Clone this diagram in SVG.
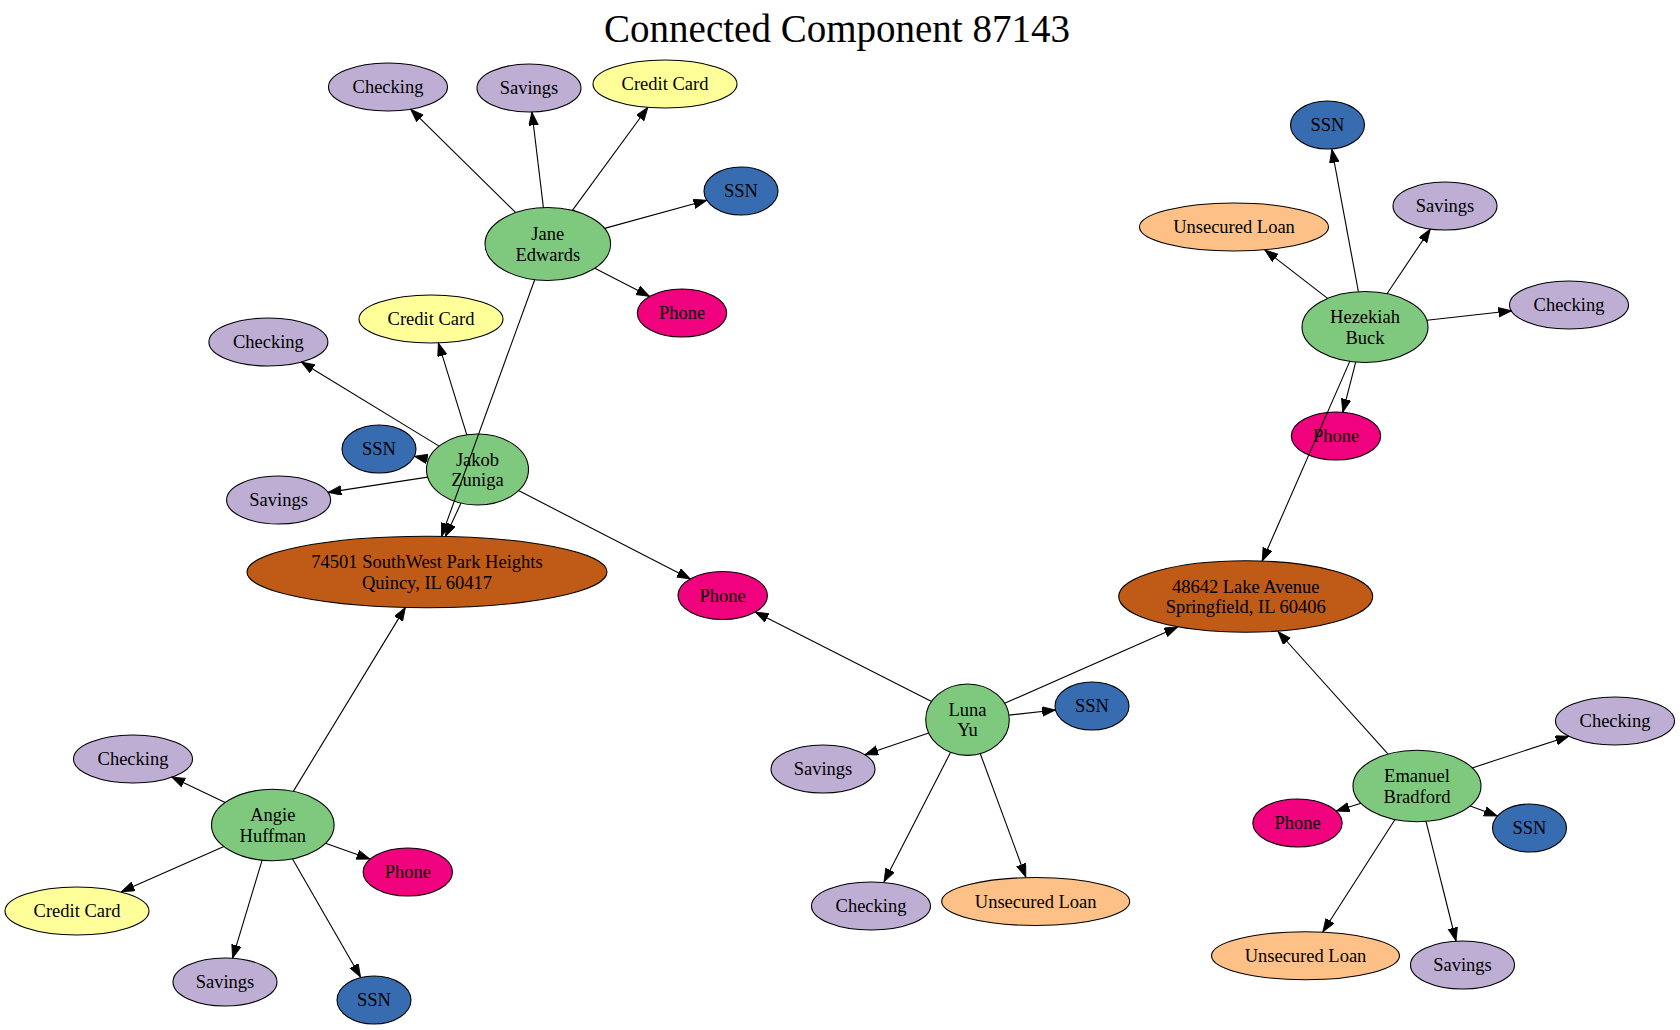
<svg xmlns="http://www.w3.org/2000/svg" width="1680" height="1030" viewBox="0 0 1680 1030">
<style>
text{font-family:"Liberation Serif","Times New Roman",serif;font-size:18.5px;text-anchor:middle;fill:#000}
.title{font-size:39px}
ellipse{stroke:#000;stroke-width:1.1}
.person{fill:#7fc97f}
.acct{fill:#beaed4}
.cc{fill:#ffff99}
.loan{fill:#fdc086}
.ssn{fill:#386cb0}
.phone{fill:#f0027f}
.addr{fill:#bf5b17}
#edges line{stroke:#000;stroke-width:1.1;marker-end:url(#arr)}
</style>
<defs>
<marker id="arr" markerUnits="userSpaceOnUse" markerWidth="15" markerHeight="11" refX="13.3" refY="4.8" orient="auto">
<path d="M0,0 L13.3,4.8 L0,9.6 z" fill="#000" stroke="#000" stroke-width="0.8"/>
</marker>
</defs>
<rect width="1680" height="1030" fill="#fff"/>
<text class="title" x="837" y="42">Connected Component 87143</text>

<g id="jane"><ellipse class="person" cx="547.8" cy="244" rx="62.8" ry="36.5"/><text x="547.8" y="240">Jane</text><text x="547.8" y="260.5">Edwards</text></g>
<g id="jane_checking"><ellipse class="acct" cx="388" cy="87" rx="59.5" ry="24"/><text x="388" y="93">Checking</text></g>
<g id="jane_savings"><ellipse class="acct" cx="529" cy="88" rx="52" ry="24"/><text x="529" y="94">Savings</text></g>
<g id="jane_cc"><ellipse class="cc" cx="665" cy="84" rx="72" ry="24"/><text x="665" y="90">Credit Card</text></g>
<g id="jane_ssn"><ellipse class="ssn" cx="741" cy="191" rx="37" ry="24"/><text x="741" y="197">SSN</text></g>
<g id="jane_phone"><ellipse class="phone" cx="682" cy="313" rx="44.7" ry="24"/><text x="682" y="319">Phone</text></g>

<g id="jakob"><ellipse class="person" cx="477.5" cy="469.5" rx="51" ry="35.5"/><text x="477.5" y="465.5">Jakob</text><text x="477.5" y="486">Zuniga</text></g>
<g id="jakob_cc"><ellipse class="cc" cx="431" cy="319" rx="72" ry="24"/><text x="431" y="325">Credit Card</text></g>
<g id="jakob_checking"><ellipse class="acct" cx="268.4" cy="342" rx="59.5" ry="24"/><text x="268.4" y="348">Checking</text></g>
<g id="jakob_ssn"><ellipse class="ssn" cx="379" cy="449" rx="37" ry="24"/><text x="379" y="455">SSN</text></g>
<g id="jakob_savings"><ellipse class="acct" cx="278.6" cy="500" rx="52" ry="24"/><text x="278.6" y="506">Savings</text></g>

<g id="addr_quincy"><ellipse class="addr" cx="427" cy="572" rx="180" ry="35.7"/><text x="427" y="568">74501 SouthWest Park Heights</text><text x="427" y="588.5">Quincy, IL 60417</text></g>
<g id="shared_phone"><ellipse class="phone" cx="722.7" cy="595.5" rx="44.7" ry="24"/><text x="722.7" y="601.5">Phone</text></g>

<g id="hezekiah"><ellipse class="person" cx="1365" cy="327" rx="63" ry="35.5"/><text x="1365" y="323">Hezekiah</text><text x="1365" y="343.5">Buck</text></g>
<g id="hez_ssn"><ellipse class="ssn" cx="1327.5" cy="125" rx="37" ry="24"/><text x="1327.5" y="131">SSN</text></g>
<g id="hez_loan"><ellipse class="loan" cx="1234" cy="227" rx="94.5" ry="24"/><text x="1234" y="233">Unsecured Loan</text></g>
<g id="hez_savings"><ellipse class="acct" cx="1445" cy="206" rx="52" ry="24"/><text x="1445" y="212">Savings</text></g>
<g id="hez_checking"><ellipse class="acct" cx="1569" cy="305" rx="59.5" ry="24"/><text x="1569" y="311">Checking</text></g>
<g id="hez_phone"><ellipse class="phone" cx="1336" cy="436" rx="44.7" ry="24"/><text x="1336" y="442">Phone</text></g>

<g id="addr_springfield"><ellipse class="addr" cx="1245.7" cy="596.5" rx="127" ry="35.7"/><text x="1245.7" y="592.5">48642 Lake Avenue</text><text x="1245.7" y="613">Springfield, IL 60406</text></g>

<g id="luna"><ellipse class="person" cx="967.5" cy="719.7" rx="41.8" ry="35.7"/><text x="967.5" y="715.7">Luna</text><text x="967.5" y="736.2">Yu</text></g>
<g id="luna_ssn"><ellipse class="ssn" cx="1092" cy="706" rx="37" ry="24"/><text x="1092" y="712">SSN</text></g>
<g id="luna_savings"><ellipse class="acct" cx="823" cy="769" rx="52" ry="24"/><text x="823" y="775">Savings</text></g>
<g id="luna_checking"><ellipse class="acct" cx="871" cy="906" rx="59.5" ry="24"/><text x="871" y="912">Checking</text></g>
<g id="luna_loan"><ellipse class="loan" cx="1035.7" cy="901.5" rx="94" ry="24"/><text x="1035.7" y="907.5">Unsecured Loan</text></g>

<g id="emanuel"><ellipse class="person" cx="1417" cy="786" rx="64" ry="35.7"/><text x="1417" y="782">Emanuel</text><text x="1417" y="802.5">Bradford</text></g>
<g id="em_checking"><ellipse class="acct" cx="1615" cy="721" rx="59.5" ry="24"/><text x="1615" y="727">Checking</text></g>
<g id="em_phone"><ellipse class="phone" cx="1297.5" cy="823" rx="44.7" ry="24"/><text x="1297.5" y="829">Phone</text></g>
<g id="em_ssn"><ellipse class="ssn" cx="1529.5" cy="828" rx="37" ry="24"/><text x="1529.5" y="834">SSN</text></g>
<g id="em_loan"><ellipse class="loan" cx="1305.5" cy="955.7" rx="94" ry="24"/><text x="1305.5" y="961.7">Unsecured Loan</text></g>
<g id="em_savings"><ellipse class="acct" cx="1462.5" cy="965" rx="52" ry="24"/><text x="1462.5" y="971">Savings</text></g>

<g id="angie"><ellipse class="person" cx="272.8" cy="825" rx="61.3" ry="35.7"/><text x="272.8" y="821">Angie</text><text x="272.8" y="841.5">Huffman</text></g>
<g id="angie_checking"><ellipse class="acct" cx="133" cy="759" rx="59.5" ry="24"/><text x="133" y="765">Checking</text></g>
<g id="angie_phone"><ellipse class="phone" cx="407.8" cy="872" rx="44.7" ry="24"/><text x="407.8" y="878">Phone</text></g>
<g id="angie_cc"><ellipse class="cc" cx="77" cy="911" rx="72" ry="24"/><text x="77" y="917">Credit Card</text></g>
<g id="angie_savings"><ellipse class="acct" cx="225" cy="982" rx="52" ry="24"/><text x="225" y="988">Savings</text></g>
<g id="angie_ssn"><ellipse class="ssn" cx="374" cy="1000" rx="37" ry="24"/><text x="374" y="1006">SSN</text></g>

<g id="edges">
<line x1="515.8" y1="212.6" x2="410.6" y2="109.2"/>
<line x1="543.4" y1="207.6" x2="531.9" y2="112.0"/>
<line x1="572.4" y1="210.4" x2="647.9" y2="107.3"/>
<line x1="604.6" y1="228.4" x2="706.9" y2="200.3"/>
<line x1="594.8" y1="268.2" x2="649.7" y2="296.4"/>
<line x1="534.7" y1="279.7" x2="441.5" y2="536.4"/>
<line x1="466.8" y1="434.8" x2="438.4" y2="342.9"/>
<line x1="439.1" y1="446.1" x2="301.2" y2="362.0"/>
<line x1="428.6" y1="459.3" x2="414.2" y2="456.3"/>
<line x1="427.7" y1="477.1" x2="328.0" y2="492.4"/>
<line x1="461.0" y1="503.1" x2="445.5" y2="536.5"/>
<line x1="518.5" y1="490.6" x2="690.4" y2="578.9"/>
<line x1="931.6" y1="701.5" x2="755.2" y2="612.0"/>
<line x1="1004.6" y1="703.3" x2="1177.7" y2="627.0"/>
<line x1="1009.0" y1="715.1" x2="1055.5" y2="710.0"/>
<line x1="928.7" y1="733.0" x2="864.8" y2="754.7"/>
<line x1="950.6" y1="752.3" x2="884.0" y2="882.0"/>
<line x1="980.3" y1="753.7" x2="1025.8" y2="877.2"/>
<line x1="1358.4" y1="291.7" x2="1331.9" y2="149.3"/>
<line x1="1327.6" y1="298.4" x2="1264.8" y2="249.9"/>
<line x1="1387.0" y1="293.7" x2="1430.3" y2="229.1"/>
<line x1="1426.9" y1="320.3" x2="1511.8" y2="310.8"/>
<line x1="1355.7" y1="362.1" x2="1342.8" y2="412.3"/>
<line x1="1349.8" y1="361.4" x2="1262.2" y2="561.2"/>
<line x1="1388.1" y1="754.1" x2="1278.0" y2="631.5"/>
<line x1="1472.2" y1="767.9" x2="1568.9" y2="736.2"/>
<line x1="1361.0" y1="803.3" x2="1336.2" y2="811.0"/>
<line x1="1470.2" y1="805.9" x2="1497.4" y2="816.0"/>
<line x1="1395.0" y1="819.5" x2="1322.8" y2="932.0"/>
<line x1="1426.0" y1="821.3" x2="1456.0" y2="941.0"/>
<line x1="293.3" y1="791.4" x2="405.4" y2="607.4"/>
<line x1="225.2" y1="802.5" x2="171.6" y2="777.0"/>
<line x1="325.4" y1="843.3" x2="370.0" y2="859.1"/>
<line x1="223.9" y1="846.5" x2="121.2" y2="891.8"/>
<line x1="262.1" y1="860.2" x2="232.6" y2="958.2"/>
<line x1="292.4" y1="858.8" x2="360.6" y2="977.2"/>
</g>
</svg>
